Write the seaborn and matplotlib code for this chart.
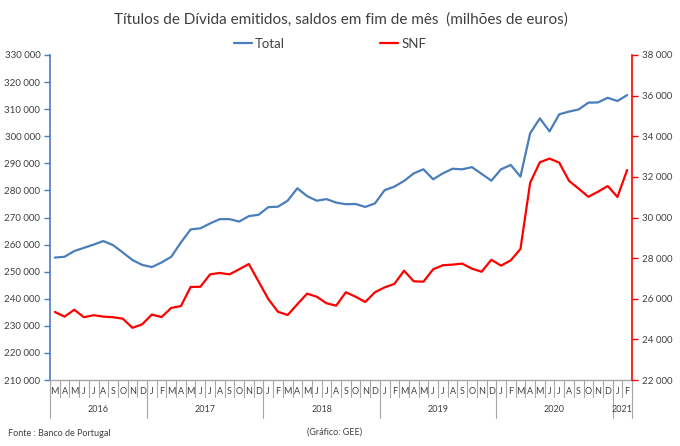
import matplotlib
matplotlib.use("Agg")
import matplotlib.pyplot as plt
import seaborn as sns
import pandas as pd
from matplotlib.ticker import FuncFormatter, MultipleLocator
from matplotlib.lines import Line2D

months = (["M", "A", "M", "J", "J", "A", "S", "O", "N", "D"]
          + ["J", "F", "M", "A", "M", "J", "J", "A", "S", "O", "N", "D"] * 4
          + ["J", "F"])
years = ["2016", "2017", "2018", "2019", "2020", "2021"]
year_counts = [10, 12, 12, 12, 12, 2]

total = [255200, 255500, 257600, 258800, 260000, 261300, 259800, 257100, 254300, 252500,
         251700, 253400, 255500, 260800, 265600, 266000, 267800, 269400, 269400, 268500, 270500, 271000,
         273800, 274000, 276200, 280800, 277900, 276200, 276800, 275500, 274900, 275000, 273900, 275200,
         280100, 281400, 283500, 286300, 287800, 284100, 286300, 288000, 287800, 288600, 286100, 283600,
         287800, 289400, 285100, 301100, 306600, 301800, 308100, 309100, 309900, 312400, 312500, 314200,
         313000, 315200]
snf = [25350, 25120, 25460, 25090, 25190, 25120, 25090, 25020, 24570, 24740,
       25220, 25100, 25550, 25640, 26580, 26590, 27200, 27270, 27200, 27450, 27710, 26850,
       25990, 25360, 25200, 25730, 26250, 26100, 25780, 25660, 26320, 26100, 25840, 26320,
       26560, 26730, 27380, 26860, 26840, 27450, 27650, 27680, 27730, 27480, 27330, 27920,
       27630, 27890, 28450, 31710, 32720, 32900, 32700, 31810, 31420, 31020, 31270, 31550,
       31010, 32340]

sns.set_style("white")
plt.rcParams["font.family"] = ["Lato", "DejaVu Sans"]

BLUE = "#4a7ebb"
RED = "#ff0000"
GRID = "#a6a6a6"
TXT = "#404040"

df = pd.DataFrame({"idx": range(len(months)), "Total": total, "SNF": snf})

fig = plt.figure(figsize=(6.8, 4.46), dpi=100)
ax = fig.add_axes([50 / 680, 1 - 380 / 446, 582 / 680, 325 / 446])
ax2 = ax.twinx()

sns.lineplot(data=df, x="idx", y="Total", ax=ax, color=BLUE, linewidth=1.6, legend=False)
sns.lineplot(data=df, x="idx", y="SNF", ax=ax2, color=RED, linewidth=1.6, legend=False)

n = len(months)
ax.set_xlim(-0.5, n - 0.5)
ax.set_ylim(210000, 330000)
ax2.set_ylim(22000, 38000)

fmt = FuncFormatter(lambda v, p: f"{int(v):,}".replace(",", " "))
ax.yaxis.set_major_locator(MultipleLocator(10000))
ax2.yaxis.set_major_locator(MultipleLocator(2000))
ax.yaxis.set_major_formatter(fmt)
ax2.yaxis.set_major_formatter(fmt)

for a in (ax, ax2):
    for s in a.spines.values():
        s.set_visible(False)
    a.set_xlabel("")
    a.set_ylabel("")
    a.grid(False)

ax.spines["left"].set_visible(True)
ax.spines["left"].set_color(BLUE)
ax.spines["left"].set_linewidth(1.2)
ax2.spines["right"].set_visible(True)
ax2.spines["right"].set_color(RED)
ax2.spines["right"].set_linewidth(1.2)
ax.spines["bottom"].set_visible(True)
ax.spines["bottom"].set_color(GRID)
ax.spines["bottom"].set_linewidth(1.0)

ax.tick_params(axis="y", which="major", direction="out", length=4, width=1, color=BLUE,
               labelsize=7, labelcolor=TXT, pad=3)
ax2.tick_params(axis="y", which="major", direction="out", length=4, width=1, color=RED,
                labelsize=7, labelcolor=TXT, pad=3)

# month labels
ax.set_xticks(range(n))
ax.set_xticklabels(months)
ax.tick_params(axis="x", which="major", length=0, labelsize=6.5, labelcolor=TXT, pad=5)

trans = ax.get_xaxis_transform()
# month separators
for i in range(n + 1):
    ax.plot([i - 0.5, i - 0.5], [0, -0.052], transform=trans, color=GRID, lw=0.8, clip_on=False)
# year separators and labels
start = 0
bounds = [-0.5]
for y, c in zip(years, year_counts):
    ax.text(start + c / 2 - 0.5, -0.092, y, transform=trans, ha="center", va="center",
            fontsize=6.5, color=TXT)
    start += c
    bounds.append(start - 0.5)
for b in bounds:
    ax.plot([b, b], [0, -0.117], transform=trans, color=GRID, lw=0.8, clip_on=False)

fig.text(341 / 680, 1 - 20 / 446, "Títulos de Dívida emitidos, saldos em fim de mês  (milhões de euros)",
         ha="center", va="center", fontsize=11, color=TXT)

handles = [Line2D([], [], color=BLUE, lw=1.6), Line2D([], [], color=RED, lw=1.6)]
fig.legend(handles, ["Total", "SNF"], loc="center", bbox_to_anchor=(330 / 680, 1 - 44 / 446),
           ncol=2, frameon=False, fontsize=9.5, handlelength=1.4, handletextpad=0.2,
           columnspacing=7.2, labelcolor=TXT)

fig.text(8 / 680, 1 - 433 / 446, "Fonte : Banco de Portugal", ha="left", va="center",
         fontsize=6.5, color=TXT)
fig.text(335 / 680, 1 - 432 / 446, "(Gráfico: GEE)", ha="center", va="center",
         fontsize=6.5, color=TXT)

fig.savefig("out.png", dpi=100, facecolor="white")
